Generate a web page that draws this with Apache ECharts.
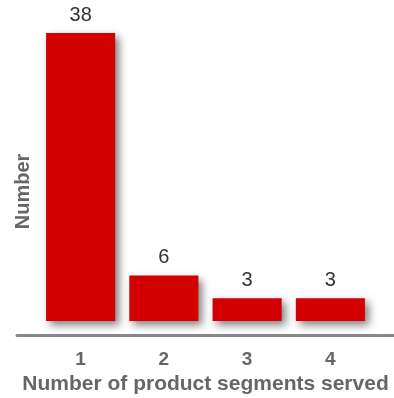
<!DOCTYPE html>
<html>
<head>
	<meta charset="UTF-8">
	<script src="https://cdn.jsdelivr.net/npm/echarts@6/dist/echarts.min.js"></script>
	<style>
		body {
			margin: 0;
			padding: 0;
			background: #ffffff;
		}

		#chart {
			width: 394px;
			height: 398px;
		}
	</style>
</head>
<body>
	<div id="chart"></div>
	<script>
		// 数据
		var categories = ['1', '2', '3', '4'];
		var counts = [38, 6, 3, 3];
		var xTitle = 'Number of product segments served';
		var yTitle = 'Number';

		var chart = echarts.init(document.getElementById('chart'));
		var option = {
			animation: false,
			textStyle: { fontFamily: 'Liberation Sans, Arial, sans-serif' },
			grid: [
				{ left: 39, right: 22, top: 33, bottom: 77, outerBoundsMode: 'none' },
				// 只用来画底部那条长一点的灰线
				{ left: 17, right: 0, top: 33, bottom: 77, outerBoundsMode: 'none' }
			],
			xAxis: [{
				type: 'category',
				gridIndex: 0,
				data: categories,
				offset: 15,
				axisLine: { show: false, onZero: false },
				axisTick: { show: false },
				axisLabel: {
					margin: 14,
					color: '#666666',
					fontSize: 19,
					fontWeight: 'bold'
				},
				name: xTitle,
				nameLocation: 'middle',
				nameGap: 38,
				nameTextStyle: {
					color: '#666666',
					fontSize: 21,
					fontWeight: 'bold'
				}
			}, {
				type: 'category',
				gridIndex: 1,
				data: categories,
				offset: 14,
				axisLine: { show: true, onZero: false, lineStyle: { color: '#888888', width: 3 } },
				axisTick: { show: false },
				axisLabel: { show: false }
			}],
			yAxis: [{
				type: 'value',
				gridIndex: 0,
				min: 0,
				max: 38,
				splitLine: { show: false },
				axisLine: { show: false },
				axisTick: { show: false },
				axisLabel: { show: false },
				name: yTitle,
				nameLocation: 'middle',
				nameGap: 6,
				nameTextStyle: {
					color: '#666666',
					fontSize: 20,
					fontWeight: 'bold',
					padding: [0, 29, 0, 0]
				}
			}, {
				type: 'value',
				gridIndex: 1,
				show: false
			}],
			series: [{
				type: 'bar',
				xAxisIndex: 0,
				yAxisIndex: 0,
				data: counts,
				barWidth: '83%',
				itemStyle: {
					color: '#d20000',
					shadowBlur: 8,
					shadowOffsetX: 4,
					shadowOffsetY: 4,
					shadowColor: 'rgba(0,0,0,0.5)'
				},
				label: {
					show: true,
					position: 'top',
					distance: 8,
					color: '#333333',
					fontSize: 20
				}
			}]
		};
		chart.setOption(option);
	</script>
</body>
</html>
